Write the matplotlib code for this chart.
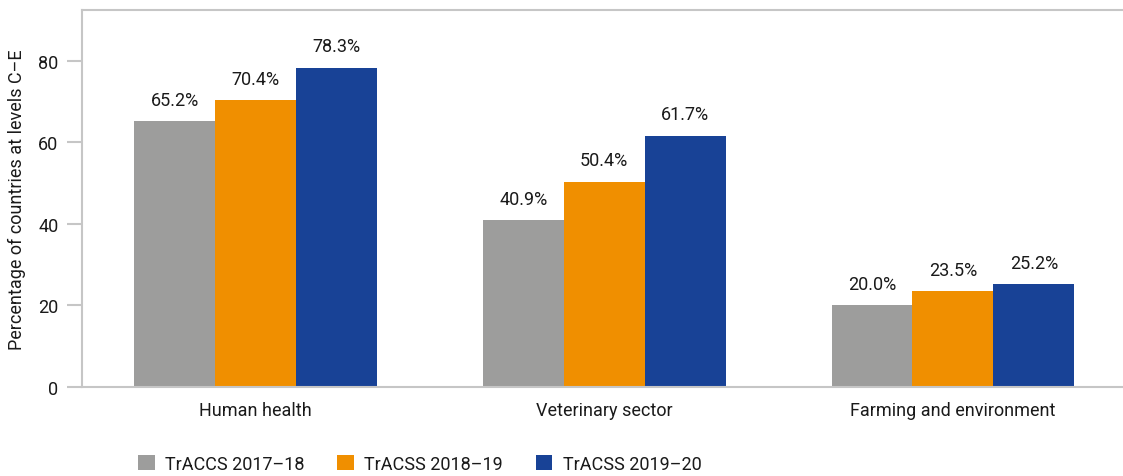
import numpy as np
import matplotlib.pyplot as plt
from matplotlib.patches import Patch

plt.rcParams['font.family'] = ['Roboto', 'DejaVu Sans']

categories = ['Human health', 'Veterinary sector', 'Farming and environment']
series_names = ['TrACCS 2017\u201318', 'TrACSS 2018\u201319', 'TrACSS 2019\u201320']
values_2017 = [65.2, 40.9, 20.0]
values_2018 = [70.4, 50.4, 23.5]
values_2019 = [78.3, 61.7, 25.2]
colors = ['#9d9d9c', '#f08f00', '#184296']
fs = 13

fig = plt.figure(figsize=(11.23, 4.77), dpi=100)
ax = fig.add_axes([82 / 1123, 89 / 477, 1.0 - 82 / 1123 + 0.01, 377 / 477])

x = np.arange(len(categories))
w = 0.232
all_vals = [values_2017, values_2018, values_2019]
for i, (vals, c) in enumerate(zip(all_vals, colors)):
    bars = ax.bar(x + (i - 1) * w, vals, width=w, color=c, linewidth=0)
    for b, v in zip(bars, vals):
        ax.annotate(f'{v:.1f}%', (b.get_x() + b.get_width() / 2, v),
                    xytext=(0, 9), textcoords='offset points',
                    ha='center', va='bottom', fontsize=fs, color='#1a1a1a')

ax.set_xlim(-0.498, 2.52)
ax.set_ylim(0, 92.5)
ax.set_yticks([0, 20, 40, 60, 80])
ax.set_xticks(x)
ax.set_xticklabels(categories)
ax.tick_params(axis='x', length=0, pad=10, labelsize=fs, labelcolor='#1a1a1a')
ax.tick_params(axis='y', length=11, width=1.5, color='#c6c6c6', pad=6,
               labelsize=fs, labelcolor='#1a1a1a')
for s in ['left', 'top', 'bottom']:
    ax.spines[s].set_color('#c6c6c6')
    ax.spines[s].set_linewidth(1.5)
ax.spines['right'].set_visible(False)
ax.set_ylabel('Percentage of countries at levels C\u2013E', fontsize=fs,
              color='#1a1a1a', labelpad=9)

handles = [Patch(facecolor=c, edgecolor='none') for c in colors]
fig.legend(handles, series_names, loc='center left',
           bbox_to_anchor=(122 / 1123, 1 - 465 / 477), ncol=3, frameon=False,
           fontsize=fs, handlelength=0.9, handleheight=0.9,
           handletextpad=0.6, columnspacing=1.8, labelcolor='#1a1a1a')

fig.savefig('out.png', dpi=100)
